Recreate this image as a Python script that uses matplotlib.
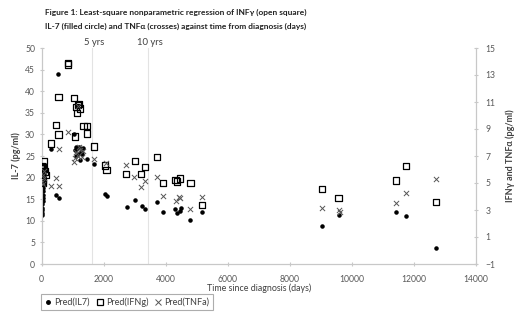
import matplotlib
matplotlib.use("Agg")
import matplotlib.pyplot as plt
from matplotlib.lines import Line2D

plt.rcParams['font.family'] = ['Lato', 'DejaVu Sans']

# ---- data ----
il7_days = [5, 10, 15, 20, 25, 30, 35, 40, 45, 50, 55, 60, 65, 70, 80, 90, 100, 110, 120,
            290, 470, 526, 550,
            1030, 1060, 1090, 1110, 1140, 1170, 1200, 1230, 1260, 1300, 1330,
            1450, 1680, 2030, 2090, 2740, 3000, 3220, 3320, 3730, 3910,
            4310, 4350, 4450, 4480, 4780, 5160, 9030, 9580, 11420, 11740, 12710]
il7_vals = [11.3, 11.8, 12.4, 13.0, 13.8, 14.5, 15.3, 16.0, 16.8, 17.5, 18.2, 18.8, 19.3, 19.8, 20.3, 20.8, 21.5, 22.2, 23.0,
            26.6, 16.0, 44.0, 15.3,
            30.0, 26.5, 27.0, 25.0, 26.8, 25.5, 27.0, 24.0, 26.0, 25.5, 26.8,
            24.3, 23.1, 16.2, 15.8, 13.2, 14.8, 13.4, 12.7, 14.4, 12.0,
            12.7, 11.8, 12.3, 13.0, 10.2, 12.0, 8.8, 11.3, 12.0, 11.1, 3.7]

ifng_days = [0, 30, 50, 50, 75, 75, 100, 120, 300, 470, 540, 540, 840, 860,
             1050, 1075, 1100, 1140, 1170, 1210, 1240, 1345, 1450, 1470, 1680,
             2040, 2090, 2730, 3000, 3210, 3330, 3710, 3900, 4310, 4350, 4450, 4800,
             5170, 9040, 9570, 11420, 11740, 12720]
ifng_vals = [6.26, 5.21, 6.07, 4.98, 6.62, 6.10, 5.85, 5.59, 7.93, 9.30, 11.35, 8.60, 13.78, 13.91,
             11.29, 8.44, 10.62, 10.17, 10.78, 10.84, 10.52, 9.21, 8.66, 9.24, 7.70,
             6.30, 5.98, 5.66, 6.65, 5.66, 6.20, 6.94, 5.02, 5.21, 5.11, 5.34, 5.02,
             3.38, 4.54, 3.86, 5.18, 6.26, 3.58]

tnfa_days = [10, 30, 50, 60, 90, 310, 470, 550, 550, 840,
             1040, 1080, 1120, 1160, 1180, 1200, 1250, 1290, 1340,
             1690, 2060, 2730, 2990, 3200, 3330, 3710, 3910, 4320, 4430, 4470, 4770,
             5170, 9040, 9570, 9600, 11420, 11740, 12720]
tnfa_vals = [5.08, 5.56, 4.92, 5.88, 5.40, 4.79, 5.40, 4.79, 7.51, 8.79,
             6.55, 6.84, 7.32, 7.00, 10.68, 7.64, 7.48, 6.94, 7.38,
             6.81, 6.49, 6.30, 5.46, 4.73, 5.18, 5.43, 4.02, 3.70, 3.99, 3.86, 3.06,
             3.96, 3.13, 3.00, 2.84, 3.54, 4.28, 5.27]

vline_days = [1620, 3420]
vline_labels = ['5 yrs', '10 yrs']

x_ticks = [0, 2000, 4000, 6000, 8000, 10000, 12000, 14000]
y_left_ticks = [0, 5, 10, 15, 20, 25, 30, 35, 40, 45, 50]
y_right_ticks = [-1, 1, 3, 5, 7, 9, 11, 13, 15]

# ---- figure ----
fig = plt.figure(figsize=(5.2, 3.15), dpi=100)
ax = fig.add_axes([41.7/520, 1-264/315, (476-41.7)/520, (264-48)/315])
ax2 = ax.twinx()

axis_col = '#c8c8c8'
tick_col = '#595959'

for a in (ax, ax2):
    a.set_xlim(0, 14000)
    a.spines['top'].set_visible(False)
    for s in ('left', 'right', 'bottom'):
        a.spines[s].set_color(axis_col)
        a.spines[s].set_linewidth(0.8)
    a.tick_params(direction='inout', length=3.5, width=0.8, color=axis_col,
                  labelcolor=tick_col, labelsize=6.2, pad=3)
    a.set_facecolor('none')

ax.set_ylim(0, 50)
ax2.set_ylim(-1, 15)
ax.set_xticks(x_ticks)
ax.set_xticklabels([str(t) for t in x_ticks])
ax.set_yticks(y_left_ticks)
ax2.set_yticks(y_right_ticks)
ax.tick_params(axis='x', pad=6)
ax.tick_params(axis='y', pad=3)
ax2.tick_params(axis='y', pad=5)

for d, lab in zip(vline_days, vline_labels):
    ax.axvline(d, color='#e3e3e3', lw=0.8, zorder=0)
    ax.text(d + 60, 50.2, lab, ha='center', va='bottom', fontsize=6.8, color='#404040')

ax.scatter(il7_days, il7_vals, s=5, marker='o', color='black', zorder=3)
ax2.scatter(ifng_days, ifng_vals, s=20, marker='s', facecolors='none',
            edgecolors='black', linewidths=0.9, zorder=3)
ax2.scatter(tnfa_days, tnfa_vals, s=14, marker='x', color='#555555',
            linewidths=0.7, zorder=3)

ax.set_ylabel('IL-7 (pg/ml)', fontsize=6.5, fontweight='bold', color='#404040', labelpad=3)
ax2.set_ylabel('IFNγ and TNFα (pg/ml)', fontsize=6.5, fontweight='bold', color='#404040',
               rotation=90, labelpad=7)
ax.set_xlabel('Time since diagnosis (days)', fontsize=6.4, color='#404040', va='center')
ax.xaxis.set_label_coords((259-41.7)/(476-41.7), -(288-264)/(264-48))

fig.text(45/520, 1-12/315, 'Figure 1: Least-square nonparametric regression of INFγ (open square)',
         fontsize=6.0, fontweight='bold', color='#222222', va='center', ha='left')
fig.text(45/520, 1-26/315, 'IL-7 (filled circle) and TNFα (crosses) against time from diagnosis (days)',
         fontsize=6.0, fontweight='bold', color='#222222', va='center', ha='left')

handles = [
    Line2D([], [], marker='o', ls='none', color='black', markersize=2.5),
    Line2D([], [], marker='s', ls='none', markerfacecolor='none', markeredgecolor='black',
           markersize=5, markeredgewidth=0.9),
    Line2D([], [], marker='x', ls='none', color='#555555', markersize=4.5, markeredgewidth=0.7),
]
leg = fig.legend(handles, ['Pred(IL7)', 'Pred(IFNg)', 'Pred(TNFa)'],
                 loc='lower left', bbox_to_anchor=(41/520, 1-310/315), ncol=3,
                 frameon=True, fancybox=False, edgecolor='#999999', fontsize=6.5,
                 handlelength=0.8, handletextpad=0.3, columnspacing=0.7,
                 borderpad=0.35, borderaxespad=0)
leg.get_frame().set_linewidth(0.8)
for t in leg.get_texts():
    t.set_color('#404040')

fig.savefig('out.png', dpi=100)
